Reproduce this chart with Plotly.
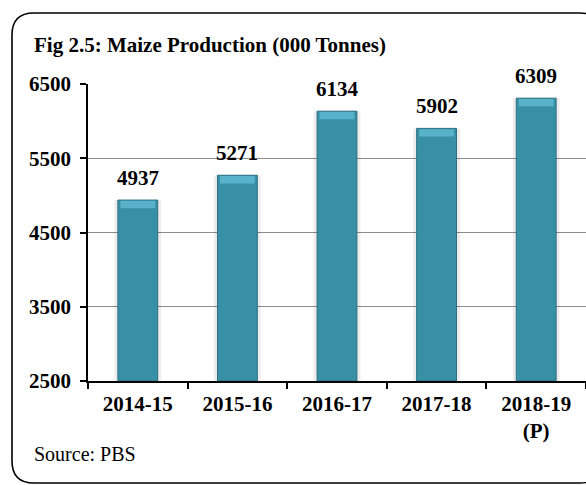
import plotly.graph_objects as go

categories = ["2014-15", "2015-16", "2016-17", "2017-18", "2018-19<br>(P)"]
values = [4937, 5271, 6134, 5902, 6309]
y_ticks = [2500, 3500, 4500, 5500, 6500]
title_text = "Fig 2.5: Maize Production (000 Tonnes)"
source_text = "Source: PBS"

W, H = 586, 485
L, R, T, B = 88, 0, 84, 104
PW, PH = W - L - R, H - T - B

def px(x):
    return (x - L) / PW

def py(y):
    return (H - B - y) / PH

FONT = "Liberation Serif"
BAR = "#3790a6"
BEVEL = "#58b3ca"
EDGE = "#2b6f82"

fig = go.Figure()
# soft shadow
fig.add_trace(go.Bar(x=categories, y=[v - 2500 for v in values], base=2500,
                     width=0.47, marker=dict(color="rgba(0,0,0,0.07)", line=dict(width=0)),
                     hoverinfo="skip", showlegend=False))
fig.add_trace(go.Bar(x=categories, y=[v - 2500 for v in values], base=2500,
                     width=0.40, marker=dict(color=BAR, line=dict(color=EDGE, width=1)),
                     showlegend=False))
# top bevel highlight
fig.add_trace(go.Bar(x=categories, y=[100] * len(values), base=[v - 110 for v in values],
                     width=0.35, marker=dict(color=BEVEL, line=dict(width=0)),
                     hoverinfo="skip", showlegend=False))

for c, v in zip(categories, values):
    fig.add_annotation(x=c, y=v, text=str(v), showarrow=False,
                       yanchor="bottom", yshift=8,
                       font=dict(family=FONT, size=21, color="black", weight="bold"))

fig.add_annotation(xref="paper", yref="paper", x=px(32), y=py(454), text=source_text,
                   showarrow=False, xanchor="left", yanchor="middle",
                   font=dict(family=FONT, size=20, color="black"))

# rounded border (right side runs past the visible edge)
r = 22
x0, x1, y0, y1 = 12, 602, 13, 483
path = (f"M {px(x0 + r)} {py(y0)} L {px(x1 - r)} {py(y0)} "
        f"Q {px(x1)} {py(y0)} {px(x1)} {py(y0 + r)} "
        f"L {px(x1)} {py(y1 - r)} Q {px(x1)} {py(y1)} {px(x1 - r)} {py(y1)} "
        f"L {px(x0 + r)} {py(y1)} Q {px(x0)} {py(y1)} {px(x0)} {py(y1 - r)} "
        f"L {px(x0)} {py(y0 + r)} Q {px(x0)} {py(y0)} {px(x0 + r)} {py(y0)} Z")
fig.add_shape(type="path", xref="paper", yref="paper", path=path,
              line=dict(color="black", width=1.6), layer="above")

fig.update_layout(
    width=W, height=H,
    margin=dict(l=L, r=R, t=T, b=B, autoexpand=False),
    paper_bgcolor="white", plot_bgcolor="white",
    barmode="overlay",
    title=dict(text=title_text, x=34 / W, xanchor="left",
               y=1 - 45 / H, yanchor="middle", xref="container", yref="container",
               pad=dict(l=0, r=0, t=0, b=0),
               font=dict(family=FONT, size=21, color="black", weight="bold")),
    font=dict(family=FONT, color="black"),
    xaxis=dict(type="category", showline=True, linecolor="black", linewidth=1.5,
               ticks="outside", tickson="boundaries", ticklen=6, tickcolor="black",
               tickwidth=1.5, showgrid=False, automargin=False, ticklabelstandoff=3,
               tickfont=dict(family=FONT, size=21, color="black", weight="bold"),
               fixedrange=True),
    yaxis=dict(range=[2500, 6500], tickvals=y_ticks, showline=True, linecolor="black",
               linewidth=1.5, ticks="outside", ticklen=6, tickcolor="black", tickwidth=1.5,
               showgrid=True, gridcolor="#8c8c8c", gridwidth=1, zeroline=False,
               automargin=False, ticklabelstandoff=5,
               tickfont=dict(family=FONT, size=21, color="black", weight="bold"),
               fixedrange=True),
)

fig.write_html("out.html", config={"displayModeBar": False},
               post_script="document.body.style.margin='0';document.body.style.overflow='hidden';")
